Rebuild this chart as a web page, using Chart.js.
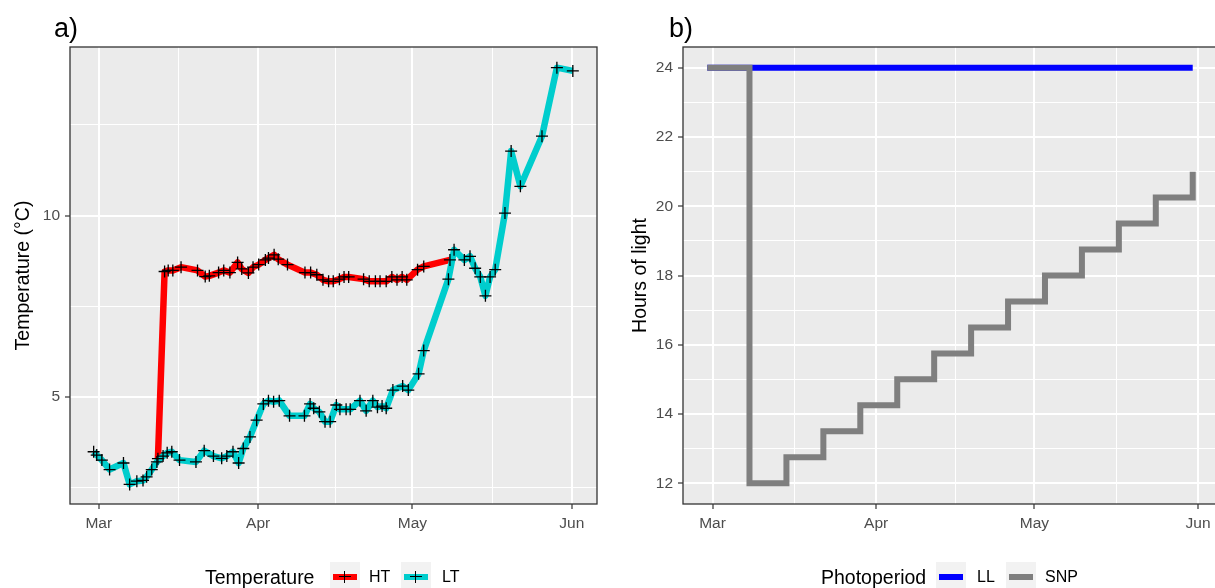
<!DOCTYPE html>
<html>
<head>
<meta charset="utf-8">
<script src="https://cdn.jsdelivr.net/npm/chart.js@4/dist/chart.umd.min.js"></script>
<style>
  html, body { margin: 0; padding: 0; background: #fff; }
  body { width: 1215px; height: 588px; overflow: hidden; position: relative; font-family: "Liberation Sans", Arial, sans-serif; }
  canvas { position: absolute; top: 0; }
  #chartA { left: 0; }
  #chartB { left: 617px; }
  .tag { position: absolute; top: 15px; font-size: 27px; line-height: 27px; color: #000; }
  .lg { position: absolute; top: 562px; height: 30px; line-height: 30px; color: #000; white-space: nowrap; }
  .lgTitle { font-size: 19.5px; }
  .lgText { font-size: 16px; }
  .key { position: absolute; top: 562px; width: 30px; height: 30px; background: #F2F2F2; }
  .key .bar { position: absolute; left: 3px; width: 24px; top: 12px; height: 6px; }
  .key .ph { position: absolute; left: 9px; width: 12px; top: 14px; height: 1px; background: #000; }
  .key .pv { position: absolute; left: 14px; width: 1px; top: 9px; height: 12px; background: #000; }
</style>
</head>
<body>
<canvas id="chartA" width="610" height="588"></canvas>
<canvas id="chartB" width="600" height="588"></canvas>

<div class="tag" style="left:54px">a)</div>
<div class="tag" style="left:669px">b)</div>

<div class="lg lgTitle" style="left:205px">Temperature</div>
<div class="key" style="left:330px"><div class="bar" style="background:#FF0000"></div><div class="ph"></div><div class="pv"></div></div>
<div class="lg lgText" style="left:369px">HT</div>
<div class="key" style="left:401px"><div class="bar" style="background:#00CDCD"></div><div class="ph"></div><div class="pv"></div></div>
<div class="lg lgText" style="left:442px">LT</div>

<div class="lg lgTitle" style="left:821px">Photoperiod</div>
<div class="key" style="left:936px"><div class="bar" style="background:#0000FF"></div></div>
<div class="lg lgText" style="left:977px">LL</div>
<div class="key" style="left:1006px"><div class="bar" style="background:#7F7F7F"></div></div>
<div class="lg lgText" style="left:1045px">SNP</div>

<script>
// days are counted from 1 March
const monthDays = [0, 31, 61, 92];
const monthLabels = ['Mar', 'Apr', 'May', 'Jun'];
const monthMinor = [15.5, 46, 76.5];

// a) temperature
const htDays = [11.5, 12.8, 13.5, 14.4, 16.0, 19.2, 20.7, 21.5, 23.3, 24.3, 25.5, 27.0, 27.8, 29.1, 30.0, 31.1, 32.4, 33.0, 34.1, 34.9, 36.7, 40.1, 41.2, 42.4, 43.6, 44.7, 45.6, 46.8, 47.7, 48.6, 51.5, 52.6, 53.8, 54.7, 55.9, 57.0, 58.0, 59.0, 59.9, 62.0, 63.2, 68.3];
const htTemp = [3.30, 8.46, 8.49, 8.49, 8.58, 8.49, 8.32, 8.34, 8.43, 8.49, 8.43, 8.71, 8.53, 8.42, 8.58, 8.65, 8.78, 8.83, 8.92, 8.80, 8.65, 8.43, 8.43, 8.37, 8.23, 8.19, 8.19, 8.25, 8.31, 8.31, 8.25, 8.19, 8.19, 8.19, 8.19, 8.31, 8.23, 8.31, 8.23, 8.51, 8.60, 8.78];
const ltDays = [-1.0, -0.4, 0.6, 2.1, 4.8, 6.0, 7.4, 8.6, 9.3, 10.3, 11.3, 12.5, 13.3, 14.2, 15.7, 18.9, 20.5, 22.3, 23.9, 24.9, 26.1, 27.2, 28.1, 29.4, 30.7, 32.0, 33.0, 34.0, 35.1, 37.1, 40.0, 41.1, 41.8, 42.9, 44.0, 45.0, 46.2, 46.9, 48.1, 48.9, 50.8, 52.0, 53.3, 54.2, 55.1, 55.9, 57.2, 59.1, 60.2, 62.2, 63.2, 68.0, 69.1, 71.1, 72.2, 73.2, 74.2, 75.2, 76.1, 77.1, 79.0, 80.2, 82.0, 86.2, 89.1, 92.2];
const ltTemp = [3.49, 3.40, 3.26, 3.00, 3.18, 2.59, 2.68, 2.70, 2.80, 3.00, 3.21, 3.37, 3.46, 3.49, 3.26, 3.21, 3.52, 3.37, 3.31, 3.37, 3.49, 3.18, 3.58, 3.90, 4.36, 4.81, 4.90, 4.87, 4.90, 4.48, 4.48, 4.81, 4.69, 4.59, 4.32, 4.32, 4.78, 4.66, 4.66, 4.66, 4.90, 4.62, 4.90, 4.72, 4.75, 4.69, 5.19, 5.30, 5.19, 5.64, 6.28, 8.25, 9.06, 8.78, 8.88, 8.55, 8.31, 7.79, 8.31, 8.51, 10.07, 11.78, 10.81, 12.19, 14.08, 13.99];
const tempTicks = [2.5, 5, 7.5, 10, 12.5];

// b) photoperiod
const llDays = [-1, 91];
const llHours = [24, 24];
const snpDays = [-1, 7, 14, 21, 28, 35, 42, 49, 56, 63, 70, 77, 84, 91];
const snpHours = [24, 12, 12.75, 13.5, 14.25, 15, 15.75, 16.5, 17.25, 18, 18.75, 19.5, 20.25, 21];
const hourTicks = [12, 13, 14, 15, 16, 17, 18, 19, 20, 21, 22, 23, 24];

const FONT = '"Liberation Sans", Arial, sans-serif';

function toPoints(xs, ys) {
  return xs.map((x, i) => ({ x: x, y: ys[i] }));
}

const panelFrame = {
  id: 'panelFrame',
  beforeDraw(chart) {
    const { ctx, chartArea: a } = chart;
    ctx.save();
    ctx.fillStyle = '#EBEBEB';
    ctx.fillRect(a.left, a.top, a.right - a.left, a.bottom - a.top);
    ctx.restore();
  },
  afterDraw(chart) {
    const { ctx, chartArea: a } = chart;
    ctx.save();
    ctx.strokeStyle = '#333333';
    ctx.lineWidth = 1.3;
    ctx.strokeRect(a.left, a.top, a.right - a.left, a.bottom - a.top);
    ctx.restore();
  }
};

function xScale(min, max) {
  return {
    type: 'linear',
    min: min,
    max: max,
    afterBuildTicks: s => { s.ticks = monthDays.concat(monthMinor).sort((a, b) => a - b).map(v => ({ value: v })); },
    afterFit: s => { s.height = 84; },
    grid: {
      color: '#FFFFFF',
      lineWidth: c => monthDays.includes(c.tick.value) ? 2 : 1,
      tickColor: c => monthDays.includes(c.tick.value) ? '#333333' : 'rgba(0,0,0,0)',
      tickLength: 5,
      tickWidth: 1.2
    },
    border: { display: false },
    ticks: {
      autoSkip: false,
      maxRotation: 0,
      padding: 5,
      color: '#4D4D4D',
      font: { family: FONT, size: 15.5 },
      callback: v => { const i = monthDays.indexOf(v); return i >= 0 ? monthLabels[i] : ''; }
    }
  };
}

function yScale(min, max, tickVals, isMajor, title, width) {
  return {
    type: 'linear',
    min: min,
    max: max,
    afterBuildTicks: s => { s.ticks = tickVals.map(v => ({ value: v })); },
    afterFit: s => { s.width = width; },
    grid: {
      color: '#FFFFFF',
      lineWidth: c => isMajor(c.tick.value) ? 2 : 1,
      tickColor: c => isMajor(c.tick.value) ? '#333333' : 'rgba(0,0,0,0)',
      tickLength: 5,
      tickWidth: 1.2
    },
    border: { display: false },
    ticks: {
      autoSkip: false,
      padding: 5,
      color: '#4D4D4D',
      font: { family: FONT, size: 15.5 },
      callback: v => isMajor(v) ? String(v) : ''
    },
    title: {
      display: true,
      text: title,
      color: '#000000',
      font: { family: FONT, size: 19.5 },
      padding: { top: 12, bottom: 0 }
    }
  };
}

const commonOpts = {
  responsive: false,
  animation: false,
  devicePixelRatio: 1,
  events: [],
  plugins: { legend: { display: false }, tooltip: { enabled: false } }
};

new Chart(document.getElementById('chartA'), {
  type: 'scatter',
  data: {
    datasets: [
      { label: 'HT', data: toPoints(htDays, htTemp), showLine: true, borderColor: '#FF0000', borderWidth: 6.5, borderJoinStyle: 'round', pointRadius: 0, order: 4 },
      { label: 'LT', data: toPoints(ltDays, ltTemp), showLine: true, borderColor: '#00CDCD', borderWidth: 6.5, borderJoinStyle: 'round', pointRadius: 0, order: 3 },
      { label: 'HT points', data: toPoints(htDays, htTemp), showLine: false, pointStyle: 'cross', pointRadius: 6, pointBorderColor: '#000000', pointBorderWidth: 1.3, order: 2 },
      { label: 'LT points', data: toPoints(ltDays, ltTemp), showLine: false, pointStyle: 'cross', pointRadius: 6, pointBorderColor: '#000000', pointBorderWidth: 1.3, order: 1 }
    ]
  },
  options: Object.assign({}, commonOpts, {
    layout: { padding: { left: 0, right: 13, top: 47, bottom: 0 } },
    scales: {
      x: xScale(-5.6, 96.9),
      y: yScale(2.05, 14.65, tempTicks, v => v % 5 === 0, 'Temperature (°C)', 70)
    }
  }),
  plugins: [panelFrame]
});

new Chart(document.getElementById('chartB'), {
  type: 'scatter',
  data: {
    datasets: [
      { label: 'LL', data: toPoints(llDays, llHours), showLine: true, borderColor: '#0000FF', borderWidth: 6, pointRadius: 0, order: 2 },
      { label: 'SNP', data: toPoints(snpDays, snpHours), showLine: true, stepped: 'before', borderColor: '#7F7F7F', borderWidth: 6, pointRadius: 0, order: 1 }
    ]
  },
  options: Object.assign({}, commonOpts, {
    layout: { padding: { left: 0, right: 0, top: 47, bottom: 0 } },
    scales: {
      x: xScale(-5.6, 95.6),
      y: yScale(11.4, 24.6, hourTicks, v => v % 2 === 0, 'Hours of light', 66)
    }
  }),
  plugins: [panelFrame]
});
</script>
</body>
</html>
